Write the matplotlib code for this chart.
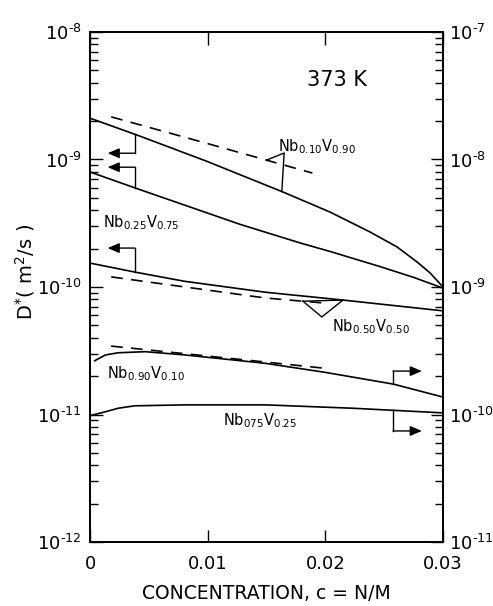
import numpy as np
import matplotlib
matplotlib.use("Agg")
import matplotlib.pyplot as plt
from matplotlib.ticker import LogLocator, NullFormatter, FixedLocator

plt.rcParams['font.family'] = ['DejaVu Sans']
plt.rcParams['mathtext.fontset'] = 'dejavusans'

# --- data (D in m^2/s) ---
# left-axis alloys
c_1090 = [0.0, 0.0042, 0.0099, 0.0164, 0.0204, 0.0238, 0.0261, 0.0278, 0.0289, 0.030]
d_1090 = [2.11e-9, 1.53e-9, 9.7e-10, 5.56e-10, 3.87e-10, 2.70e-10, 2.06e-10, 1.57e-10, 1.29e-10, 1.0e-10]
c_1090_dash = [0.0018, 0.0099, 0.0189]
d_1090_dash = [2.16e-9, 1.34e-9, 7.83e-10]

c_2575 = [0.0, 0.0042, 0.0128, 0.0179, 0.0204, 0.0246, 0.0275, 0.030]
d_2575 = [7.98e-10, 5.82e-10, 3.09e-10, 2.21e-10, 1.90e-10, 1.45e-10, 1.19e-10, 0.98e-10]

c_5050 = [0.0, 0.0038, 0.008, 0.0149, 0.0215, 0.030]
d_5050 = [1.54e-10, 1.31e-10, 1.11e-10, 9.1e-11, 7.9e-11, 6.5e-11]
c_5050_dash = [0.0018, 0.0149, 0.0198]
d_5050_dash = [1.20e-10, 8.2e-11, 7.5e-11]

# right-axis alloys
c_9010 = [0.0004, 0.0013, 0.0024, 0.0047, 0.0081, 0.0149, 0.020, 0.0258, 0.030]
d_9010 = [2.64e-10, 2.93e-10, 3.05e-10, 3.11e-10, 2.93e-10, 2.52e-10, 2.14e-10, 1.73e-10, 1.37e-10]
c_9010_dash = [0.0018, 0.0149, 0.0204]
d_9010_dash = [3.44e-10, 2.58e-10, 2.28e-10]

c_7525 = [0.0, 0.0013, 0.0024, 0.0038, 0.0081, 0.0149, 0.0223, 0.030]
d_7525 = [0.98e-10, 1.05e-10, 1.12e-10, 1.17e-10, 1.19e-10, 1.19e-10, 1.12e-10, 1.03e-10]

xticks = [0, 0.01, 0.02, 0.03]
xticklabels = ['0', '0.01', '0.02', '0.03']
lticks = [1e-12, 1e-11, 1e-10, 1e-9, 1e-8]
rticks = [1e-11, 1e-10, 1e-9, 1e-8, 1e-7]

lw = 1.2
dash = (7, 5)


def at(c, d, x):
    # point on a curve (log interpolation) to hang a leader on
    return 10 ** np.interp(x, c, np.log10(d))


def powlabel(t):
    return '$10^{\u2010%d}$' % abs(int(round(np.log10(t))))


fig = plt.figure(figsize=(4.93, 6.06), dpi=100)
ax = fig.add_axes([0.1826, 0.1056, 0.716, 0.8416])
ax2 = ax.twinx()

for a, lo, hi in ((ax, 1e-12, 1e-8), (ax2, 1e-11, 1e-7)):
    a.set_yscale('log')
    a.set_ylim(lo, hi)
    a.yaxis.set_minor_locator(LogLocator(base=10, subs=range(2, 10)))
    a.yaxis.set_minor_formatter(NullFormatter())
ax.set_xlim(0, 0.03)

ax.plot(c_1090, d_1090, 'k-', lw=lw)
ax.plot(c_1090_dash, d_1090_dash, 'k--', lw=lw, dashes=dash)
ax.plot(c_2575, d_2575, 'k-', lw=lw)
ax.plot(c_5050, d_5050, 'k-', lw=lw)
ax.plot(c_5050_dash, d_5050_dash, 'k--', lw=lw, dashes=dash)
ax2.plot(c_9010, d_9010, 'k-', lw=lw)
ax2.plot(c_9010_dash, d_9010_dash, 'k--', lw=lw, dashes=dash)
ax2.plot(c_7525, d_7525, 'k-', lw=lw)

# ticks
ax.set_xticks(xticks)
ax.set_xticklabels(xticklabels, fontsize=13)
ax.xaxis.set_minor_locator(FixedLocator([]))
ax.set_yticks(lticks)
ax.set_yticklabels([powlabel(t) for t in lticks], fontsize=13)
ax2.set_yticks(rticks)
ax2.set_yticklabels([powlabel(t) for t in rticks], fontsize=13)
ax.tick_params(axis='x', which='both', direction='in', top=True, length=9, width=1, pad=9)
ax.tick_params(axis='y', which='major', direction='in', length=9, width=1, pad=6)
ax.tick_params(axis='y', which='minor', direction='in', length=6, width=1)
ax2.tick_params(axis='y', which='major', direction='in', length=9, width=1, pad=4)
ax2.tick_params(axis='y', which='minor', direction='in', length=6, width=1)
for a in (ax, ax2):
    for s in a.spines.values():
        s.set_linewidth(1.3)

ax.set_xlabel('CONCENTRATION, c = N/M', fontsize=13.5, labelpad=8)
ax.set_ylabel(r'$\mathrm{D^{*}(\ m^{2}/s\ )}$', fontsize=14)
ax.yaxis.set_label_coords(-0.15, 0.53)

# leaders with arrows (left-pointing for left axis, right-pointing for right axis)
ak = dict(arrowstyle='-|>,head_length=0.7,head_width=0.3', color='k', lw=1, shrinkA=0, shrinkB=0)
cx = 0.0038
for c, d, ycorner in ((c_1090, d_1090, 1.12e-9), (c_2575, d_2575, 8.7e-10), (c_5050, d_5050, 2.02e-10)):
    ax.plot([cx, cx], [at(c, d, cx), ycorner], 'k-', lw=1)
    ax.annotate('', xy=(0.0015, ycorner), xytext=(cx, ycorner), arrowprops=ak)
cx = 0.02575
for c, d, ycorner in ((c_9010, d_9010, 2.19e-10), (c_7525, d_7525, 7.43e-11)):
    ax2.plot([cx, cx], [at(c, d, cx), ycorner], 'k-', lw=1)
    ax2.annotate('', xy=(0.0282, ycorner), xytext=(cx, ycorner), arrowprops=ak)

# bracket leaders joining dashed and solid curves
ax.plot([0.0150, 0.0165, 0.0163],
        [at(c_1090_dash, d_1090_dash, 0.0150), 1.125e-9, at(c_1090, d_1090, 0.0163)], 'k-', lw=1)
ax.plot([0.0181, 0.0197, 0.0215, 0.0181],
        [at(c_5050_dash, d_5050_dash, 0.0181), 5.82e-11, at(c_5050, d_5050, 0.0215),
         at(c_5050_dash, d_5050_dash, 0.0181)], 'k-', lw=1)

# labels
tk = dict(transform=ax.transAxes, fontsize=10.5, va='center', ha='left')
ax.text(0.70, 0.906, '373 K', transform=ax.transAxes, fontsize=15, ha='center', va='center')
ax.text(0.533, 0.776, r'$\mathrm{Nb_{0.10}V_{0.90}}$', **tk)
ax.text(0.037, 0.627, r'$\mathrm{Nb_{0.25}V_{0.75}}$', **tk)
ax.text(0.686, 0.422, r'$\mathrm{Nb_{0.50}V_{0.50}}$', **tk)
ax.text(0.048, 0.331, r'$\mathrm{Nb_{0.90}V_{0.10}}$', **tk)
ax.text(0.377, 0.237, r'$\mathrm{Nb_{075}V_{0.25}}$', **tk)

fig.savefig('out.png', dpi=100)
